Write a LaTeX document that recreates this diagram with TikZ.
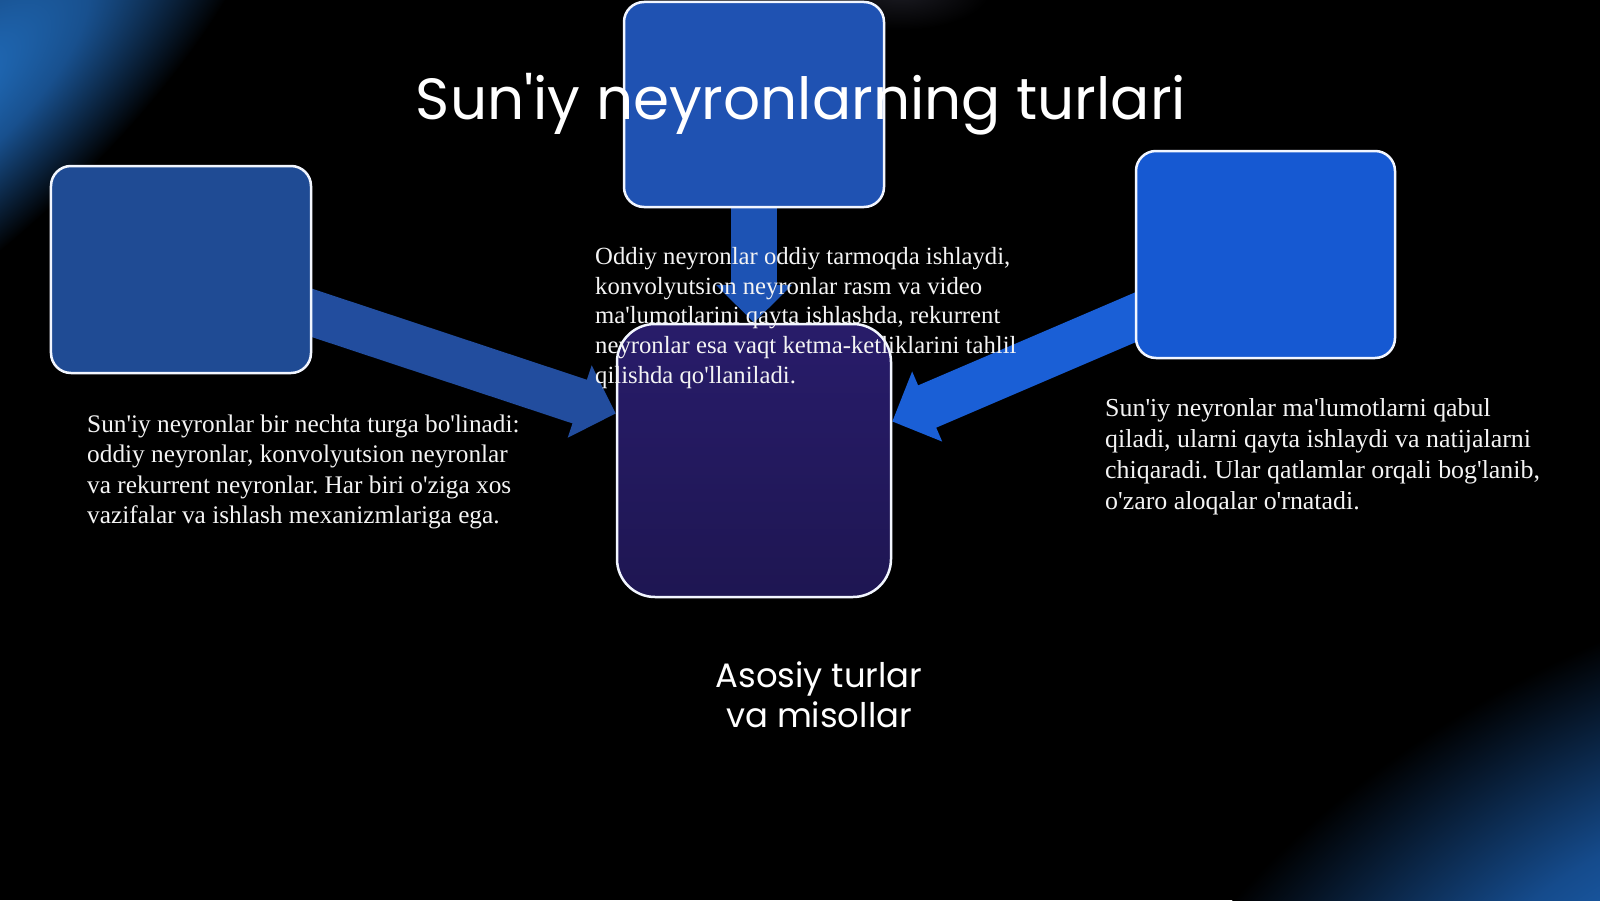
\documentclass[tikz,border=0pt]{standalone}
\usepackage{fontspec}
\setmainfont{Liberation Serif}
\newfontfamily\titlefont{Poppins}
\usetikzlibrary{arrows.meta,calc}
\newcommand\myq{\textquotesingle}
\frenchspacing
\definecolor{glowA1}{HTML}{2272C4}
\definecolor{glowA2}{HTML}{18508E}
\definecolor{glowB1}{HTML}{1E6CC6}
\definecolor{glowB2}{HTML}{154B8C}
\definecolor{glowC1}{HTML}{1C1C24}
\definecolor{boxL}{HTML}{1F4B94}
\definecolor{boxT}{HTML}{1F52B2}
\definecolor{boxR}{HTML}{1659D2}
\definecolor{boxCtop}{HTML}{281C6A}
\definecolor{boxCbot}{HTML}{1E1652}
\definecolor{arrL}{HTML}{224D9E}
\definecolor{arrT}{HTML}{1D53B4}
\definecolor{arrR}{HTML}{1A5FD6}
\definecolor{edge}{HTML}{F2F6FF}
\definecolor{txt}{HTML}{F4F4F4}
\pgfdeclareradialshading{glowTL}{\pgfpoint{0bp}{0bp}}{color(0bp)=(glowA1); color(11bp)=(glowA2); color(25bp)=(black); color(50bp)=(black)}
\pgfdeclareradialshading{glowBR}{\pgfpoint{0bp}{0bp}}{color(0bp)=(glowB1); color(11bp)=(glowB2); color(25bp)=(black); color(50bp)=(black)}
\pgfdeclareradialshading{glowTop}{\pgfpoint{0bp}{0bp}}{color(0bp)=(glowC1); color(25bp)=(black); color(50bp)=(black)}
\pgfdeclarelayer{glow}
\pgfdeclarelayer{mid}
\pgfsetlayers{glow,mid,main}
\tikzset{
  card/.style={draw=edge, line width=2.5bp, rounded corners=20bp, inner sep=0pt},
  fatarrow/.style={line width=46bp, -{Triangle[length=38bp,width=74bp]}},
  bodytext/.style={text=txt, align=left, inner sep=0pt},
  headtext/.style={text=white, inner sep=0pt, font=\titlefont\fontsize{58.3}{66}\selectfont},
  subtext/.style={text=white, inner sep=0pt, align=center, font=\titlefont\fontsize{34}{40}\selectfont}
}
\begin{document}
\begin{tikzpicture}[x=1bp,y=-1bp]
\begin{pgfonlayer}{glow}
\fill[black] (0,0) rectangle (1600,900);
\begin{scope}[transform canvas={shift={(-60,105)},rotate=42}]
  \shade[shading=glowTL] (0,0) ellipse [x radius=430, y radius=150];
\end{scope}
\begin{scope}[transform canvas={shift={(1680,985)},rotate=28}]
  \shade[shading=glowBR] (0,0) ellipse [x radius=630, y radius=345];
\end{scope}
\begin{scope}[transform canvas={shift={(900,-10)}}]
  \shade[shading=glowTop] (0,0) ellipse [x radius=90, y radius=40];
\end{scope}
\end{pgfonlayer}
\useasboundingbox (0,0) rectangle (1600,900);
% boxes
\node[card, fill=boxL, minimum width=260bp, minimum height=207bp] (L) at (181,269.5) {};
\node[card, fill=boxT, minimum width=260bp, minimum height=205bp] (T) at (754,104.5) {};
\node[card, fill=boxR, minimum width=259bp, minimum height=207bp] (R) at (1265.5,254.5) {};
\node[card, rounded corners=38bp, top color=boxCtop, bottom color=boxCbot, minimum width=274bp, minimum height=273bp] (C) at (754,460.5) {};
% arrows behind boxes
\begin{pgfonlayer}{mid}
\draw[fatarrow, arrL] (L.center) -- ($(C.west)+(0,-47)$);
\draw[fatarrow, arrT] (T.center) -- (C.north);
\draw[fatarrow, arrR] ($(R.center)+(0,7)$) -- ($(C.east)+(0,-39)$);
\end{pgfonlayer}
% texts (base anchor = last line)
\node[headtext, anchor=base] (title) at (801,119) {Sun\myq iy neyronlarning turlari};
\node[bodytext, anchor=base west, font=\fontsize{25.4}{30.5}\selectfont] (tleft) at (87,523.5) {Sun\myq iy neyronlar bir nechta turga bo\myq linadi:\\oddiy neyronlar, konvolyutsion neyronlar\\va rekurrent neyronlar. Har biri o\myq ziga xos\\vazifalar va ishlash mexanizmlariga ega.};
\node[bodytext, anchor=base west, font=\fontsize{24.8}{29.7}\selectfont] (tmid) at (595,383) {Oddiy neyronlar oddiy tarmoqda ishlaydi,\\konvolyutsion neyronlar rasm va video\\ma\myq lumotlarini qayta ishlashda, rekurrent\\neyronlar esa vaqt ketma-ketliklarini tahlil\\qilishda qo\myq llaniladi.};
\node[bodytext, anchor=base west, font=\fontsize{26}{31}\selectfont] (tright) at (1105,509) {Sun\myq iy neyronlar ma\myq lumotlarni qabul\\qiladi, ularni qayta ishlaydi va natijalarni\\chiqaradi. Ular qatlamlar orqali bog\myq lanib,\\o\myq zaro aloqalar o\myq rnatadi.};
\node[subtext, anchor=base] (sub) at (819,727) {Asosiy turlar\\va misollar};
\end{tikzpicture}
\end{document}
